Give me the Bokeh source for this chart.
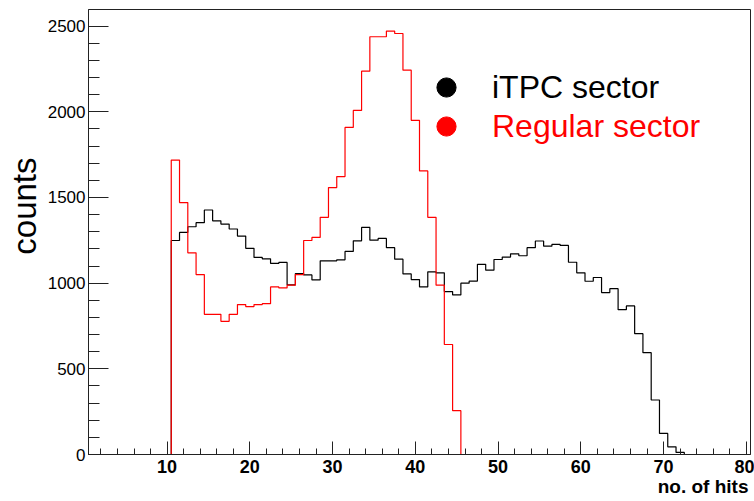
from bokeh.plotting import figure
from bokeh.models import Range1d, SingleIntervalTicker, Title, Legend, LegendItem
from bokeh.embed import file_html
from bokeh.resources import INLINE

# ---- data (bin centres = number of hits, bin width 1) ----
bins = list(range(1, 81))
itpc_counts = [0] * 10 + [
    1249, 1296, 1329, 1353, 1427, 1364, 1345, 1316, 1275, 1203,
    1150, 1142, 1115, 1121, 990, 1056, 1048, 1019, 1130, 1130,
    1136, 1185, 1247, 1325, 1251, 1261, 1207, 1140, 1054, 1021,
    978, 1066, 1060, 951, 931, 1000, 1012, 1110, 1076, 1138,
    1152, 1171, 1160, 1207, 1246, 1216, 1226, 1220, 1122, 1060,
    1011, 1033, 945, 968, 845, 867, 705, 594, 318, 123,
    45, 12] + [0] * 8
regular_counts = [0] * 10 + [
    1718, 1470, 1177, 1050, 818, 818, 777, 818, 875, 863,
    875, 880, 978, 972, 988, 1050, 1249, 1267, 1384, 1558,
    1622, 1909, 2008, 2237, 2438, 2438, 2471, 2457, 2243, 1950,
    1655, 1384, 988, 642, 256] + [0] * 35
series_names = ["iTPC sector", "Regular sector"]
x_title = "no. of hits"
y_title = "counts"

edges = [b - 0.5 for b in bins] + [bins[-1] + 0.5]

FONT = "Liberation Sans"

p = figure(width=754, height=501, output_backend="svg", toolbar_location=None,
           x_range=Range1d(0.5, 80.5), y_range=Range1d(0, 2597),
           min_border_left=88, min_border_right=4, min_border_top=9, min_border_bottom=47)
p.background_fill_color = "white"
p.border_fill_color = "white"
p.outline_line_color = "#222222"
p.outline_line_width = 1
p.xgrid.visible = False
p.ygrid.visible = False

# histograms (black first, red on top)
p.step(x=edges, y=itpc_counts + [itpc_counts[-1]], mode="after", line_color="black", line_width=1.2)
p.step(x=edges, y=regular_counts + [regular_counts[-1]], mode="after", line_color="#ff0000", line_width=1.2)

# axes
xa = p.xaxis[0]
xa.ticker = SingleIntervalTicker(interval=10, num_minor_ticks=5)
xa.major_tick_in = 13
xa.major_tick_out = 0
xa.minor_tick_in = 6
xa.minor_tick_out = 0
xa.major_label_text_font = FONT
xa.major_label_text_font_size = "18px"
xa.major_label_text_font_style = "bold"
xa.major_label_text_color = "black"
xa.major_label_standoff = 5
xa.axis_line_color = "#222222"
xa.major_tick_line_color = "#222222"
xa.minor_tick_line_color = "#222222"

ya = p.yaxis[0]
ya.ticker = SingleIntervalTicker(interval=500, num_minor_ticks=5)
ya.major_tick_in = 20
ya.major_tick_out = 0
ya.minor_tick_in = 11
ya.minor_tick_out = 0
ya.major_label_text_font = FONT
ya.major_label_text_font_size = "17px"
ya.major_label_text_color = "black"
ya.major_label_standoff = 3
ya.axis_line_color = "#222222"
ya.major_tick_line_color = "#222222"
ya.minor_tick_line_color = "#222222"

# axis titles
p.add_layout(Title(text=x_title, align="right", offset=2, standoff=0,
                   vertical_align="top",
                   text_font=FONT, text_font_size="19px", text_font_style="bold",
                   text_color="black"), "below")
p.add_layout(Title(text=y_title, align="right", offset=148, standoff=0,
                   vertical_align="top",
                   text_font=FONT, text_font_size="33px", text_font_style="normal",
                   text_color="black"), "left")

# legend (two single-item legends so each label keeps its colour)
rb = p.scatter(x=bins[:1], y=itpc_counts[:1], size=19, color="black", visible=False)
rr = p.scatter(x=bins[:1], y=regular_counts[:1], size=19, color="#ff0000", visible=False)
for r, name, col, loc in [(rb, series_names[0], "black", (334, 343)),
                          (rr, series_names[1], "#ff0000", (334, 304))]:
    leg = Legend(items=[LegendItem(label=name, renderers=[r])], location=loc,
                 border_line_alpha=0, background_fill_alpha=0, margin=0, padding=0,
                 glyph_width=48, glyph_height=48, label_standoff=22, spacing=0,
                 label_text_font=FONT, label_text_font_size="32px", label_text_color=col)
    p.add_layout(leg)

open("out.html", "w").write(file_html(p, INLINE))
